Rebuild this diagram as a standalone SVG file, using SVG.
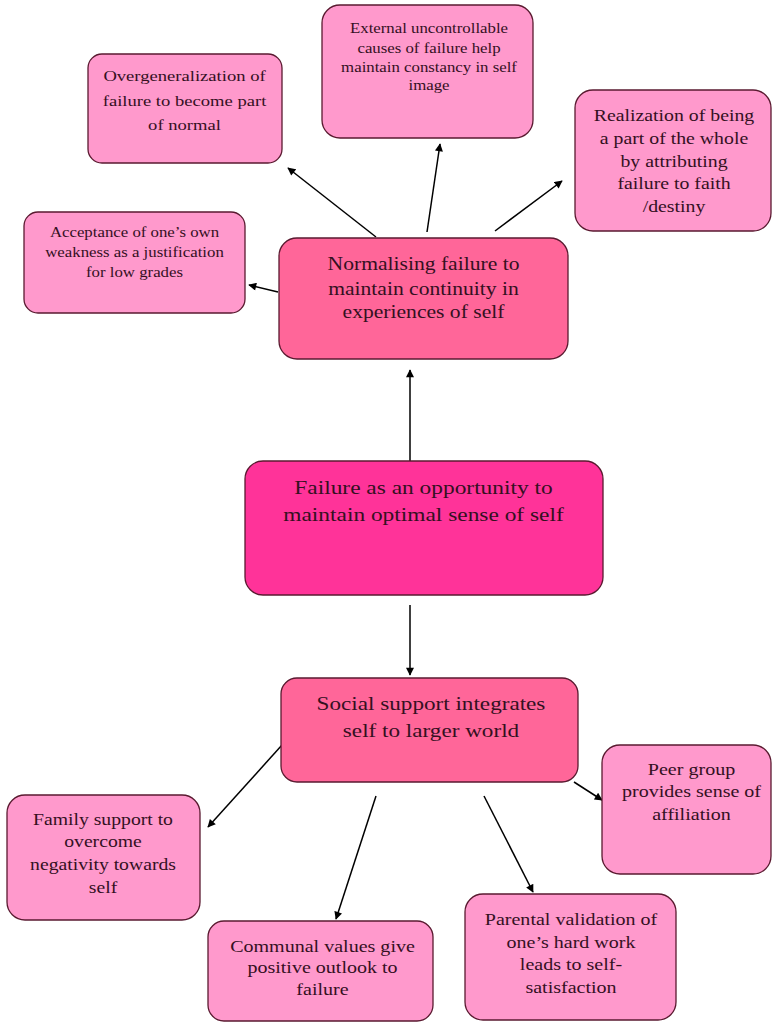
<svg xmlns="http://www.w3.org/2000/svg" width="772" height="1023" viewBox="0 0 772 1023">
<defs>
<marker id="ah" viewBox="0 0 10 10" refX="9" refY="5" markerWidth="9" markerHeight="8" markerUnits="userSpaceOnUse" orient="auto">
<path d="M0,0 L10,5 L0,10 z" fill="#000"/>
</marker>
<style>
.box{stroke:#5a1a30;stroke-width:1.3}
.lt{fill:#FF99CC}
.md{fill:#FF6699}
.dk{fill:#FF3399}
text{font-family:"Liberation Serif","Times New Roman",serif;fill:#34101f;text-anchor:middle}
.c line{stroke:#000;stroke-width:1.5;marker-end:url(#ah)}
</style>
</defs>
<rect width="772" height="1023" fill="#fff"/>
<g class="c" id="connectors">
<line x1="376" y1="237" x2="288" y2="168"/>
<line x1="427" y1="232" x2="440" y2="144"/>
<line x1="495" y1="231" x2="562" y2="181"/>
<line x1="278" y1="292" x2="249" y2="285"/>
<line x1="410" y1="461" x2="410" y2="370"/>
<line x1="410" y1="605" x2="410" y2="675"/>
<line x1="282" y1="745" x2="208" y2="827"/>
<line x1="376" y1="796" x2="336" y2="919"/>
<line x1="484" y1="796" x2="533" y2="892"/>
<line x1="574" y1="782" x2="602" y2="800"/>
</g>
<g id="overgeneralization">
<rect class="box lt" x="88" y="54" width="194" height="109" rx="14"/>
<text font-size="15.5" transform="translate(184.5 0) scale(1.2 1)"><tspan x="0" y="81">Overgeneralization of</tspan><tspan x="0" y="106">failure to become part</tspan><tspan x="0" y="130">of normal</tspan></text>
</g>
<g id="external">
<rect class="box lt" x="322" y="5" width="211" height="133" rx="18"/>
<text font-size="14" transform="translate(429 0) scale(1.2 1)"><tspan x="0" y="33">External uncontrollable</tspan><tspan x="0" y="53">causes of failure help</tspan><tspan x="0" y="72">maintain constancy in self</tspan><tspan x="0" y="90">image</tspan></text>
</g>
<g id="realization">
<rect class="box lt" x="575" y="90" width="196" height="141" rx="18"/>
<text font-size="16.5" transform="translate(674 0) scale(1.2 1)"><tspan x="0" y="121">Realization of being</tspan><tspan x="0" y="144">a part of the whole</tspan><tspan x="0" y="167">by attributing</tspan><tspan x="0" y="189">failure to faith</tspan><tspan x="0" y="212">/destiny</tspan></text>
</g>
<g id="acceptance">
<rect class="box lt" x="24" y="212" width="221" height="101" rx="14"/>
<text font-size="14" transform="translate(134.5 0) scale(1.2 1)"><tspan x="0" y="237">Acceptance of one’s own</tspan><tspan x="0" y="257">weakness as a justification</tspan><tspan x="0" y="277">for low grades</tspan></text>
</g>
<g id="normalising">
<rect class="box md" x="279" y="238" width="289" height="121" rx="18"/>
<text font-size="18" transform="translate(423.5 0) scale(1.2 1)"><tspan x="0" y="270">Normalising failure to</tspan><tspan x="0" y="295">maintain continuity in</tspan><tspan x="0" y="318">experiences of self</tspan></text>
</g>
<g id="failure">
<rect class="box dk" x="245" y="461" width="358" height="134" rx="18"/>
<text font-size="19.5" transform="translate(423.5 0) scale(1.2 1)"><tspan x="0" y="494">Failure as an opportunity to</tspan><tspan x="0" y="521">maintain optimal sense of self</tspan></text>
</g>
<g id="social">
<rect class="box md" x="281" y="678" width="297" height="104" rx="16"/>
<text font-size="19.3" transform="translate(431 0) scale(1.2 1)"><tspan x="0" y="710">Social support integrates</tspan><tspan x="0" y="737">self to larger world</tspan></text>
</g>
<g id="family">
<rect class="box lt" x="7" y="795" width="193" height="125" rx="18"/>
<text font-size="16.4" transform="translate(103 0) scale(1.2 1)"><tspan x="0" y="825">Family support to</tspan><tspan x="0" y="847">overcome</tspan><tspan x="0" y="870">negativity towards</tspan><tspan x="0" y="893">self</tspan></text>
</g>
<g id="communal">
<rect class="box lt" x="208" y="921" width="225" height="100" rx="16"/>
<text font-size="16.7" transform="translate(322.5 0) scale(1.2 1)"><tspan x="0" y="952">Communal values give</tspan><tspan x="0" y="973">positive outlook to</tspan><tspan x="0" y="995">failure</tspan></text>
</g>
<g id="parental">
<rect class="box lt" x="465" y="894" width="211" height="126" rx="18"/>
<text font-size="16.7" transform="translate(571 0) scale(1.2 1)"><tspan x="0" y="925">Parental validation of</tspan><tspan x="0" y="948">one’s hard work</tspan><tspan x="0" y="970">leads to self-</tspan><tspan x="0" y="993">satisfaction</tspan></text>
</g>
<g id="peer">
<rect class="box lt" x="602" y="745" width="169" height="129" rx="18"/>
<text font-size="16.7" transform="translate(691.5 0) scale(1.2 1)"><tspan x="0" y="775">Peer group</tspan><tspan x="0" y="797">provides sense of</tspan><tspan x="0" y="820">affiliation</tspan></text>
</g>
</svg>
